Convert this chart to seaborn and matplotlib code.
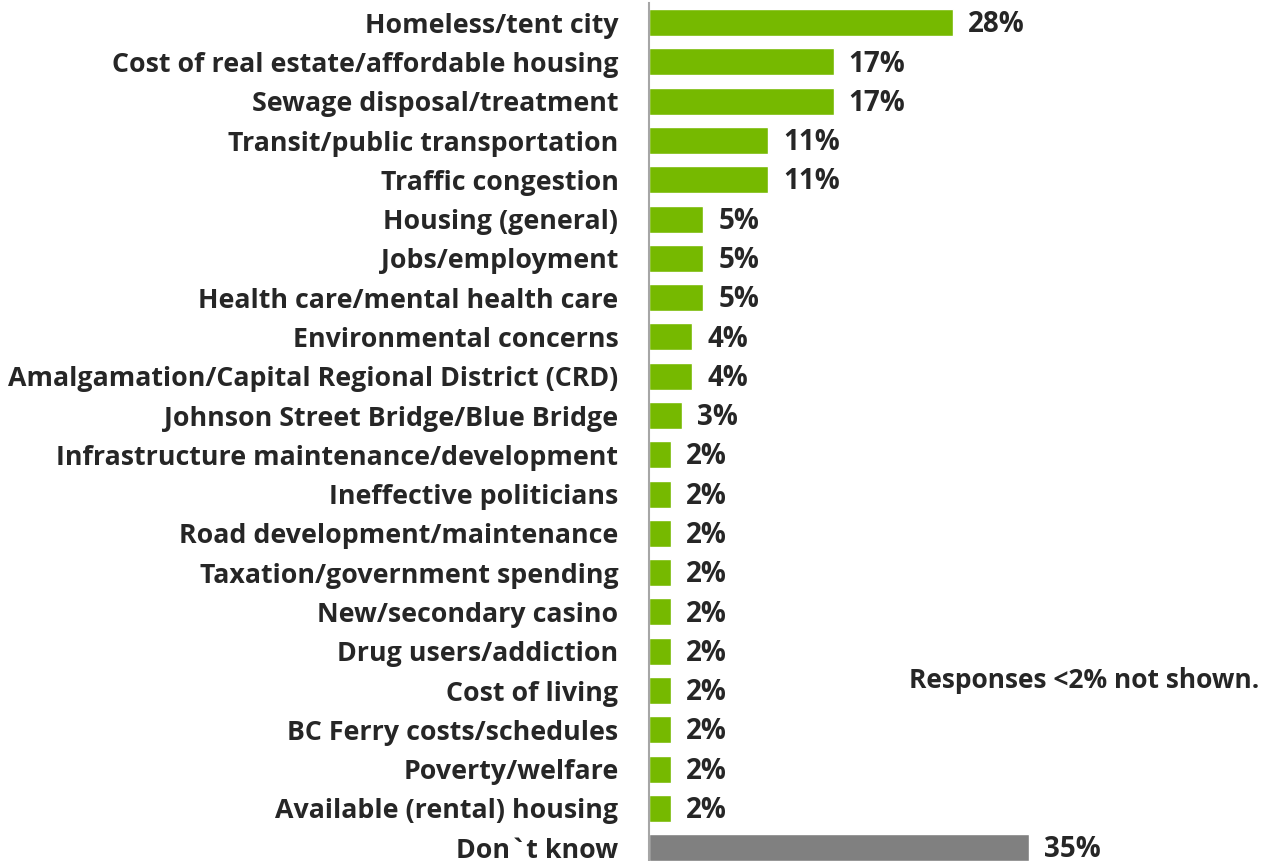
import matplotlib
matplotlib.use("Agg")
import matplotlib.pyplot as plt
import seaborn as sns
import pandas as pd

issues = ["Homeless/tent city", "Cost of real estate/affordable housing",
          "Sewage disposal/treatment", "Transit/public transportation",
          "Traffic congestion", "Housing (general)", "Jobs/employment",
          "Health care/mental health care", "Environmental concerns",
          "Amalgamation/Capital Regional District (CRD)",
          "Johnson Street Bridge/Blue Bridge",
          "Infrastructure maintenance/development", "Ineffective politicians",
          "Road development/maintenance", "Taxation/government spending",
          "New/secondary casino", "Drug users/addiction", "Cost of living",
          "BC Ferry costs/schedules", "Poverty/welfare",
          "Available (rental) housing", "Don`t know"]
pcts = [28, 17, 17, 11, 11, 5, 5, 5, 4, 4, 3, 2, 2, 2, 2, 2, 2, 2, 2, 2, 2, 35]
groups = ["issue"] * 21 + ["dk"]

df = pd.DataFrame({"issue": issues, "pct": pcts, "group": groups})

sns.set_style("white")
plt.rcParams['font.family'] = ['Open Sans', 'DejaVu Sans']
txt = "#262626"

fig = plt.figure(figsize=(12.61, 8.61), dpi=100)
ax = fig.add_axes([649 / 1261, 0, 597 / 1261, 858 / 861])

# green bars for issues, gray for "don't know"
sns.barplot(data=df, x="pct", y="issue", hue="group", dodge=False,
            palette={"issue": "#76B900", "dk": "#808080"}, saturation=1,
            width=0.69, legend=False, ax=ax, orient="h")

ax.set_xlim(0, 55)
ax.set_ylim(21.34, -0.5)
ax.set_xlabel("")
ax.set_ylabel("")
ax.set_xticks([])
for s in ["top", "right", "bottom"]:
    ax.spines[s].set_visible(False)
ax.spines["left"].set_color("#A6A6A6")
ax.spines["left"].set_linewidth(1.5)
ax.tick_params(axis="y", length=0, pad=22)
for lbl in ax.get_yticklabels():
    lbl.set_fontsize(19.3)
    lbl.set_fontweight("bold")
    lbl.set_color(txt)

for i, v in enumerate(pcts):
    ax.annotate(f"{v}%", (v, i), xytext=(11, -1.5), textcoords="offset points",
                ha="left", va="center", fontsize=20, fontweight="bold", color=txt)

fig.text(1259 / 1261, 1 - 680 / 861, "Responses <2% not shown.", ha="right",
         va="center", fontsize=19, fontweight="bold", color=txt)

fig.savefig("out.png", dpi=100)
